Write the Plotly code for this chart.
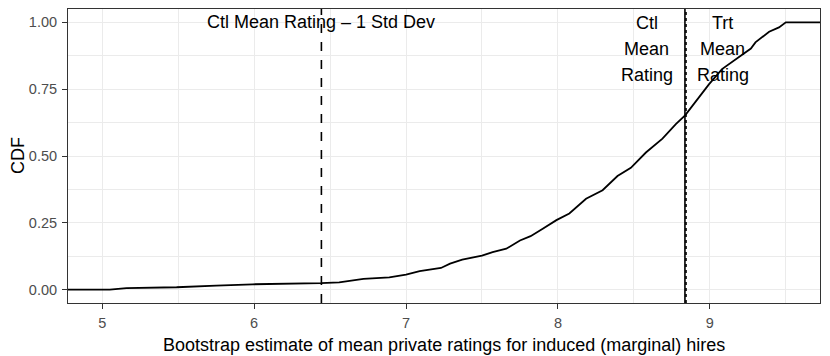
import plotly.graph_objects as go

# ECDF of bootstrap estimates
cdf_x = [4.5, 5.05, 5.16, 5.49, 5.75, 5.99, 6.44, 6.56, 6.72, 6.89, 7.0, 7.09, 7.23, 7.29,
         7.37, 7.5, 7.57, 7.66, 7.75, 7.82, 7.9, 7.99, 8.075, 8.185, 8.294, 8.392, 8.48,
         8.579, 8.688, 8.776, 8.837, 8.93, 8.995, 9.08, 9.17, 9.27, 9.30, 9.39, 9.455, 9.5, 10.0]
cdf_y = [0, 0, 0.006, 0.009, 0.015, 0.02, 0.024, 0.027, 0.040, 0.046, 0.056, 0.069, 0.081, 0.097,
         0.112, 0.127, 0.14, 0.153, 0.184, 0.20, 0.228, 0.26, 0.285, 0.34, 0.372, 0.425, 0.456,
         0.513, 0.565, 0.619, 0.652, 0.719, 0.769, 0.825, 0.862, 0.902, 0.925, 0.965, 0.981, 1.0, 1.0]

ctl_mean = 8.836
trt_mean = 8.843
ctl_minus_sd = 6.443

x_ticks = [5, 6, 7, 8, 9]
y_ticks = [0.0, 0.25, 0.5, 0.75, 1.0]
y_tick_labels = ["0.00", "0.25", "0.50", "0.75", "1.00"]

FONT = "Liberation Sans, Arial, Helvetica, sans-serif"

fig = go.Figure()
fig.add_trace(go.Scatter(x=cdf_x, y=cdf_y, mode="lines",
                         line=dict(color="black", width=1.8), showlegend=False,
                         hoverinfo="skip"))

for xv, dash in [(ctl_minus_sd, "dash"), (ctl_mean, "solid"), (trt_mean, "dot")]:
    fig.add_shape(type="line", xref="x", yref="paper", x0=xv, x1=xv, y0=0, y1=1,
                  line=dict(color="black", width=1.6, dash=dash))

ann_font = dict(family=FONT, size=18, color="black")
fig.add_annotation(x=ctl_minus_sd, y=1.0, xref="x", yref="y", text="Ctl Mean Rating \u2013 1 Std Dev",
                   showarrow=False, font=ann_font, xanchor="center", yanchor="middle")
for i, word in enumerate(["Ctl", "Mean", "Rating"]):
    fig.add_annotation(x=ctl_mean - 0.25, y=0.997 - i * 0.0975, xref="x", yref="y", text=word,
                       showarrow=False, font=ann_font, xanchor="center", yanchor="middle")
for i, word in enumerate(["Trt", "Mean", "Rating"]):
    fig.add_annotation(x=trt_mean + 0.243, y=0.997 - i * 0.0975, xref="x", yref="y", text=word,
                       showarrow=False, font=ann_font, xanchor="center", yanchor="middle")

# axis titles
fig.add_annotation(x=0.5, y=0, xref="paper", yref="paper", yshift=-42,
                   text="Bootstrap estimate of mean private ratings for induced (marginal) hires",
                   showarrow=False, font=ann_font, xanchor="center", yanchor="middle")
fig.add_annotation(x=0, y=0.5, xref="paper", yref="paper", xshift=-50, textangle=-90,
                   text="CDF", showarrow=False, font=ann_font, xanchor="center", yanchor="middle")

axis_common = dict(showline=True, linecolor="#333333", linewidth=1, mirror=True,
                   ticks="outside", ticklen=5, tickcolor="#333333", tickwidth=1,
                   ticklabelstandoff=2,
                   showgrid=True, gridcolor="#EBEBEB", gridwidth=1.1, zeroline=False,
                   tickfont=dict(family=FONT, size=14.5, color="#4D4D4D"))

fig.update_xaxes(range=[4.775, 9.725], tickvals=x_ticks, ticktext=[str(v) for v in x_ticks],
                 minor=dict(dtick=0.5, tick0=4.5, showgrid=True, gridcolor="#EBEBEB", gridwidth=0.6, ticks=""),
                 **axis_common)
fig.update_yaxes(range=[-0.05, 1.05], tickvals=y_ticks, ticktext=y_tick_labels,
                 minor=dict(dtick=0.125, tick0=0, showgrid=True, gridcolor="#EBEBEB", gridwidth=0.6, ticks=""),
                 **axis_common)

# the page body adds an 8px offset, so the figure is sized to fit the 830x356 window
fig.update_layout(width=822, height=348, margin=dict(l=60, r=10, t=1, b=53),
                  plot_bgcolor="white", paper_bgcolor="white",
                  font=dict(family=FONT))

fig.write_html("out.html")
